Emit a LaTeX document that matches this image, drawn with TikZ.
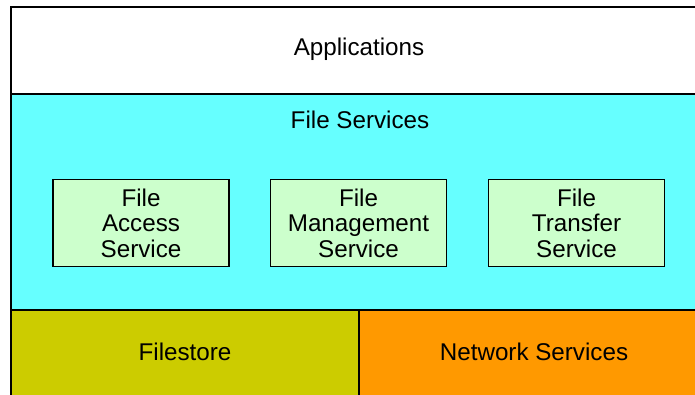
\documentclass[tikz,border=0pt]{standalone}
\usepackage{fontspec}
\setmainfont{Liberation Sans}
\definecolor{appwhite}{HTML}{FFFFFF}
\definecolor{fscyan}{HTML}{66FFFF}
\definecolor{boxgreen}{HTML}{CCFFCC}
\definecolor{storeolive}{HTML}{CCCC00}
\definecolor{netorange}{HTML}{FF9900}
\begin{document}
\begin{tikzpicture}[x=1pt,y=-1pt,
  layer/.style={draw=black, line width=2pt, anchor=north west, inner sep=0pt},
  svcbox/.style={draw=black, line width=1.5pt, fill=boxgreen, minimum width=176pt, minimum height=87pt, inner sep=0pt, align=center, font=\fontsize{24.2}{25.5}\selectfont},
  lbl/.style={font=\fontsize{24.2}{25.5}\selectfont, inner sep=0pt}]
\useasboundingbox (0,0) rectangle (695,394);
\clip (0,0) rectangle (695,394);
\node[layer, fill=appwhite, minimum width=700pt, minimum height=87pt] (apps) at (10,6) {};
\node[layer, fill=fscyan, minimum width=700pt, minimum height=216pt] (fs) at (10,93) {};
\node[layer, fill=storeolive, minimum width=348pt, minimum height=100pt] (store) at (10,309) {};
\node[layer, fill=netorange, minimum width=352pt, minimum height=100pt] (net) at (358,309) {};
\node[lbl] (appslbl) at (359,49.5) {Applications};
\node[lbl] (fslbl) at (360,120) {File Services};
\node[lbl] (storelbl) at (185,352) {Filestore};
\node[lbl] (netlbl) at (534,352) {Network Services};
\node[svcbox] (access) at (141,223) {File\\Access\\Service};
\node[svcbox] (mgmt) at (358.5,223) {File\\Management\\Service};
\node[svcbox] (transfer) at (576.5,223) {File\\Transfer\\Service};
\end{tikzpicture}
\end{document}
